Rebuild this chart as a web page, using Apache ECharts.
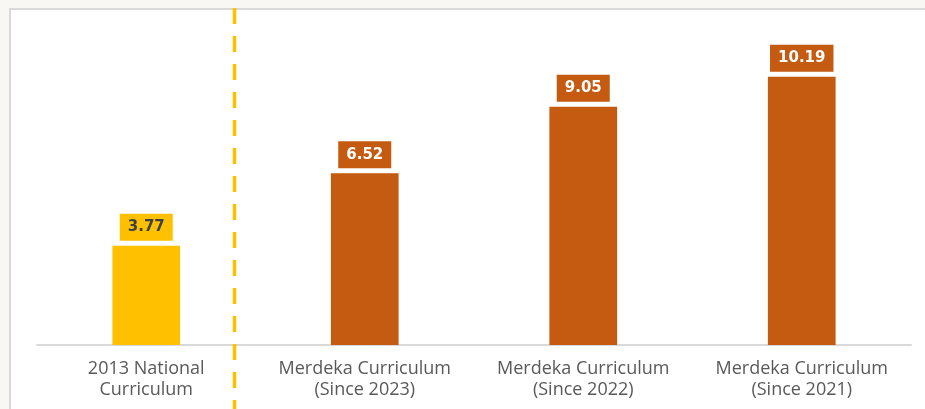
<!DOCTYPE html>
<html>
<head>
<meta charset="utf-8">
<script src="https://cdn.jsdelivr.net/npm/echarts@6/dist/echarts.min.js"></script>
<style>
  html, body { margin: 0; padding: 0; background: #f8f7f3; }
  #panel { position: absolute; left: 9px; top: 8px; width: 940px; height: 420px; background: #ffffff; border: 2px solid #d9d9d9; box-sizing: border-box; }
  #chart { position: absolute; left: 0; top: 0; width: 925px; height: 409px; }
</style>
</head>
<body>
<div id="panel"></div>
<div id="chart"></div>
<script>
const categories = ['2013 National\nCurriculum', 'Merdeka Curriculum\n(Since 2023)', 'Merdeka Curriculum\n(Since 2022)', 'Merdeka Curriculum\n(Since 2021)'];
const values = [3.77, 6.52, 9.05, 10.19];

const barColors = ['#FFC000', '#C55A11', '#C55A11', '#C55A11'];
const labelTextColors = ['#404040', '#ffffff', '#ffffff', '#ffffff'];

const chart = echarts.init(document.getElementById('chart'), null, { renderer: 'canvas' });
chart.setOption({
  backgroundColor: 'transparent',
  animation: false,
  grid: { left: 37, right: 14, top: 29, bottom: 64, containLabel: false },
  xAxis: {
    type: 'category',
    data: categories,
    axisLine: { show: true, lineStyle: { color: '#d9d9d9', width: 2 } },
    axisTick: { show: false },
    axisLabel: { color: '#595959', fontFamily: 'Open Sans', fontSize: 18, lineHeight: 21, margin: 13, interval: 0 }
  },
  yAxis: {
    type: 'value', min: 0, max: 12,
    show: false,
    splitLine: { show: false }
  },
  series: [{
    type: 'bar',
    barWidth: '31%',
    data: values.map((v, i) => ({
      value: v,
      itemStyle: { color: barColors[i] },
      label: { color: labelTextColors[i], backgroundColor: barColors[i] }
    })),
    label: {
      show: true,
      position: 'top',
      distance: 5,
      fontFamily: 'DejaVu Sans',
      fontWeight: 'bold',
      fontSize: 15,
      lineHeight: 17,
      padding: [5, 8, 5, 8],
      formatter: p => p.value.toFixed(2)
    }
  }],
  graphic: [{
    type: 'line',
    z: 100,
    shape: { x1: 234.5, y1: 8, x2: 234.5, y2: 409 },
    style: { stroke: '#FFC000', lineWidth: 3.5, lineDash: [16, 12] }
  }]
});
</script>
</body>
</html>
